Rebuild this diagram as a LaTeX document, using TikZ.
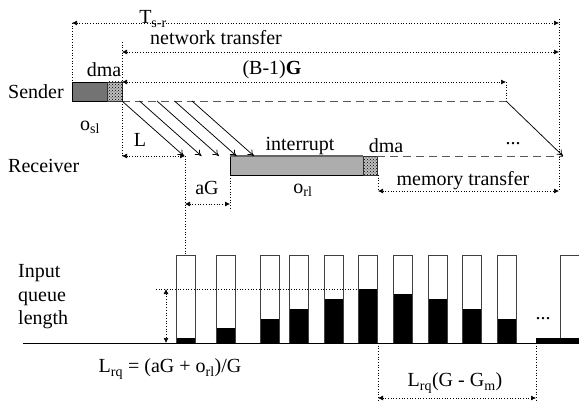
\documentclass[tikz,border=0pt]{standalone}
\usepackage{fontspec}
\setmainfont{Liberation Serif}
\usepackage{tikz}
\usetikzlibrary{arrows.meta,patterns}

\tikzset{
  lbl/.style={inner sep=0pt, font=\fontsize{20}{23.5}\selectfont},
  guide/.style={dotted, line width=0.7pt},
  dim/.style={guide, {Latex[length=5pt,width=5pt]}-{Latex[length=5pt,width=5pt]}},
  pkt/.style={line width=0.75pt, -{To[length=6pt,width=7pt]}},
  wire/.style={dashed, dash pattern=on 8pt off 5pt, line width=0.8pt, gray!70!black},
  dmabox/.style={draw=black!80, line width=0.8pt, pattern=crosshatch dots, pattern color=black},
  bar/.style={draw=black!75, line width=1pt, fill=white}
}

\begin{document}
\begin{tikzpicture}[x=1pt,y=-1pt]
        \useasboundingbox (0,0) rectangle (579,404);

        %points
        \coordinate (s0) at (72,101);
        \coordinate (s1) at (122,101);
        \coordinate (s2) at (506,101);
        \coordinate (r0) at (230,156);
        \coordinate (r1) at (377,156);
        \coordinate (r2) at (563,156);
        \coordinate (tend) at (559,23);

        %sender
        \draw[line width=0.8pt, fill=black!55] (72,82) rectangle (107,101);
        \fill[black!25] (107,82) rectangle (122,101);
        \draw[dmabox] (107,82) rectangle (122,101);
        \draw[wire] (s1) -- (s2);
        \node[lbl, anchor=west] (snd) at (8,92) {Sender};
        \node[lbl] (osl) at (90,127) {o\textsubscript{sl}};
        \node[lbl] (dma1) at (104,70) {dma};

        %receiver
        \draw[line width=0.8pt, fill=black!32] (230,156) rectangle (363,175);
        \draw[line width=1.4pt, black!60] (230,156) -- (363,156);
        \fill[black!25] (363,156) rectangle (377,175);
        \draw[dmabox] (363,156) rectangle (377,175);
        \draw[wire] (r1) -- (r2);
        \node[lbl, anchor=west] (rcv) at (8,166) {Receiver};
        \node[lbl] (intr) at (300,146) {interrupt};
        \node[lbl] (dma2) at (386,146) {dma};
        \node[lbl] (orl) at (303,190) {o\textsubscript{rl}};
        \node[lbl] (dots1) at (513,144) {...};

        %packets
        \foreach \i in {0,...,4}
            \draw[pkt] ({122+17.5*\i},101) -- ({184+17.5*\i},156);
        \draw[pkt] (s2) -- (r2);

        %timings
        \node[lbl] (tsr) at (153,19) {T\textsubscript{s-r}};
        \draw[guide] (72,23) -- (72,82);
        \draw[guide] (559,19) -- (559,191);
        \draw[dim] (72,23) -- (tend);
        \node[lbl] (net) at (216,38) {network transfer};
        \draw[guide] (122,42) -- (122,156);
        \draw[dim] (122,52) -- (559,52);
        \node[lbl] (bg) at (272,70) {(B-1)\textbf{G}};
        \draw[dim] (122,82) -- (506,82);
        \draw[guide] (506,82) -- (s2);
        \node[lbl] (lat) at (140,140) {L};
        \draw[dim] (122,156) -- (185,156);
        \draw[guide] (185,156) -- (185,255);
        \node[lbl] (ag) at (207,188) {aG};
        \draw[guide] (230,178) -- (230,208);
        \draw[dim] (185,204) -- (230,204);
        \node[lbl] (mem) at (463,181) {memory transfer};
        \draw[guide] (378,175) -- (378,191);
        \draw[dim] (378,191) -- (559,191);

        %queue
        \node[lbl, anchor=west, align=left] (iql) at (18,297) {Input\\queue\\length};
        \foreach \x/\h in {176/338,216/328,260/319,289/309,324/299,358/289,393/294,428/299,462/309,497/319}{
            \draw[bar] (\x,255) rectangle ++(19,88);
            \fill[black] (\x,\h) rectangle (\x+19,343);
            \draw[black!75, line width=1pt] (\x,255) rectangle ++(19,88);
        }
        \draw[bar] (560,255) rectangle (580,343);
        \fill[black] (536,338) rectangle (579,343);
        \node[lbl] (dots2) at (543,319) {...};
        \draw[line width=1pt] (23,343) -- (579,343);

        \draw[guide] (156,289) -- (368,289);
        \draw[dim] (166,289) -- (166,343);
        \node[lbl] (lrq) at (170,369) {L\textsubscript{rq} = (aG + o\textsubscript{rl})/G};

        \draw[guide] (378,343) -- (378,402);
        \draw[guide] (536,343) -- (536,402);
        \draw[dim] (378,398) -- (536,398);
        \node[lbl] (lrg) at (455,383) {L\textsubscript{rq}(G - G\textsubscript{m})};

    \end{tikzpicture}
\end{document}
